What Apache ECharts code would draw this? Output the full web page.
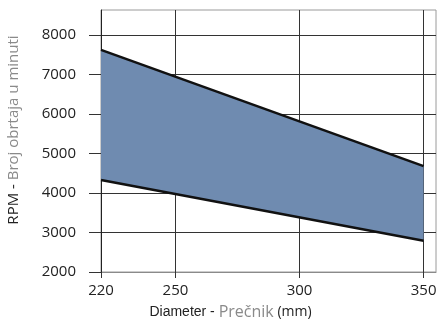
<!DOCTYPE html>
<html>
<head>
<meta charset="utf-8">
<script src="https://cdn.jsdelivr.net/npm/echarts@6/dist/echarts.min.js"></script>
<style>
html,body{margin:0;padding:0;background:#fff;}
#chart{width:439px;height:323px;}
</style>
</head>
<body>
<div id="chart"></div>
<script>
// Data
var diameters = [220, 350];          // mm
var rpmUpper = [7620, 4680];         // upper bound RPM
var rpmLower = [4330, 2790];         // lower bound RPM
var xTickValues = [220, 250, 300, 350];
var yTickValues = [2000, 3000, 4000, 5000, 6000, 7000, 8000];

var upperData = diameters.map(function (d, i) { return [d, rpmUpper[i]]; });
var lowerData = diameters.map(function (d, i) { return [d, rpmLower[i]]; });

var chart = echarts.init(document.getElementById('chart'), null, {renderer: 'canvas'});
var font = '"Open Sans", sans-serif';
chart.setOption({
  animation: false,
  grid: {left: 101, right: 3, top: 10, bottom: 51, show: true, borderColor: '#9a9a9a', borderWidth: 1,
    outerBoundsMode: 'none', containLabel: false},
  xAxis: {
    type: 'value', min: 220, max: 355,
    axisLine: {show: true, lineStyle: {color: '#8a8a8a', width: 1}},
    axisTick: {show: true, length: 6, customValues: xTickValues, lineStyle: {color: '#333'}},
    axisLabel: {customValues: xTickValues, color: '#222', fontFamily: font, fontSize: 15, margin: 11,
      formatter: function (v) { return String(v); }},
    splitLine: {show: true, lineStyle: {color: '#333', width: 1}},
    name: '{a|Diameter - }{b|Prečnik}{c| (mm)}',
    nameLocation: 'middle', nameGap: 32,
    nameTextStyle: {
      padding: [0, 76, 0, 0],
      rich: {
        a: {fontFamily: '"Liberation Sans", Arial, sans-serif', fontSize: 14, color: '#222'},
        b: {fontFamily: font, fontSize: 16, color: '#8a8a8a'},
        c: {fontFamily: font, fontSize: 14, color: '#222'}
      }
    }
  },
  yAxis: {
    type: 'value', min: 2000, max: 8630, interval: 1000,
    axisLine: {show: true, lineStyle: {color: '#222', width: 1}},
    axisTick: {show: true, length: 12, customValues: yTickValues, lineStyle: {color: '#333'}},
    axisLabel: {customValues: yTickValues, color: '#222', fontFamily: font, fontSize: 15, margin: 25,
      formatter: function (v) { return String(v); }},
    splitLine: {show: true, lineStyle: {color: '#333', width: 1}},
    name: '{a|RPM - }{b|Broj obrtaja u minuti}',
    nameLocation: 'middle', nameGap: 80,
    nameTextStyle: {
      padding: [0, 0, 0, 22],
      rich: {
        a: {fontFamily: font, fontSize: 15, color: '#222'},
        b: {fontFamily: font, fontSize: 15, color: '#8a8a8a'}
      }
    }
  },
  series: [
    {
      type: 'custom', data: [[diameters[0], rpmLower[0]]], z: 1, silent: true,
      renderItem: function (params, api) {
        var pts = [];
        for (var i = 0; i < diameters.length; i++) pts.push(api.coord([diameters[i], rpmUpper[i]]));
        for (var j = diameters.length - 1; j >= 0; j--) pts.push(api.coord([diameters[j], rpmLower[j]]));
        return {type: 'polygon', shape: {points: pts}, style: {fill: '#6f8bb0'}};
      }
    },
    {
      type: 'line', data: upperData, symbol: 'none',
      lineStyle: {color: '#111', width: 2.5}, z: 3
    },
    {
      type: 'line', data: lowerData, symbol: 'none',
      lineStyle: {color: '#111', width: 2.5}, z: 3
    }
  ]
});
</script>
</body>
</html>
